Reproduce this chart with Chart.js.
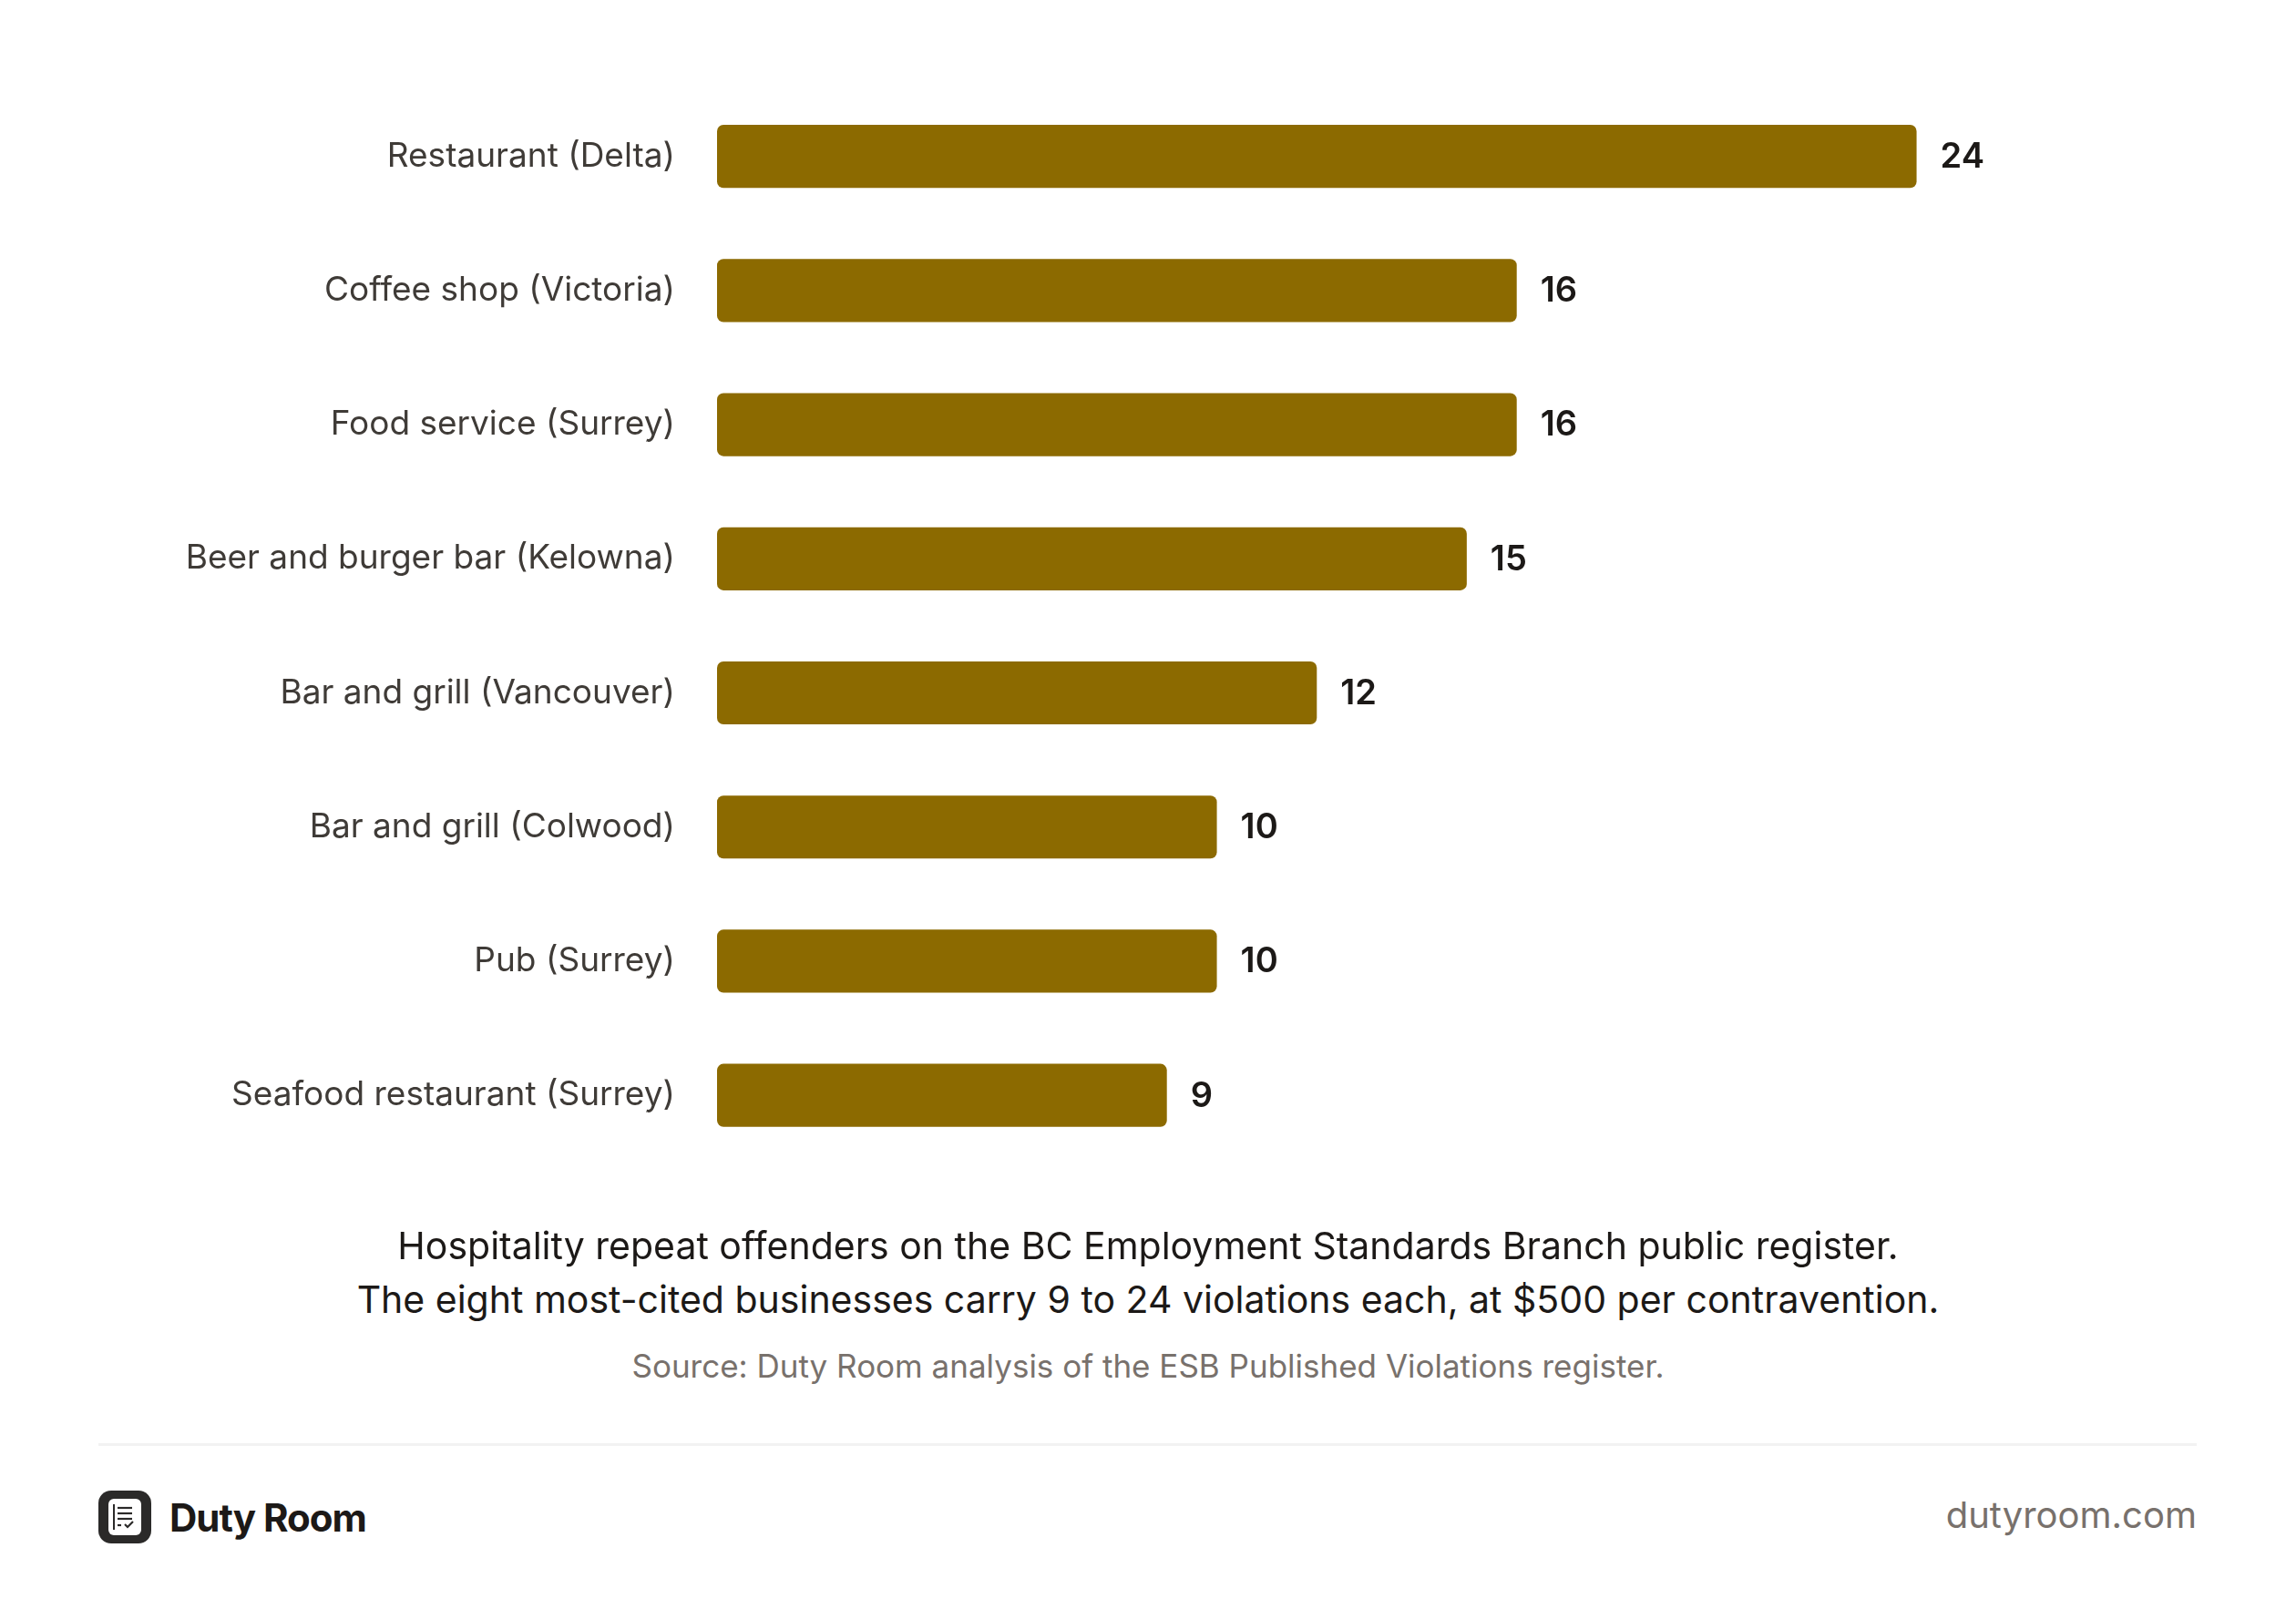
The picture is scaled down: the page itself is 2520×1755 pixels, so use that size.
<!DOCTYPE html>
<html>
<head>
<meta charset="utf-8">
<script src="https://cdn.jsdelivr.net/npm/chart.js@4.4.1/dist/chart.umd.min.js"></script>
<style>
  html, body { margin: 0; padding: 0; background: #ffffff; }
  body { width: 2520px; height: 1755px; position: relative; overflow: hidden; font-family: Inter, "Noto Sans", sans-serif; }
  #chartWrap { position: absolute; left: 0; top: 0; width: 2520px; height: 1344px; }
  .cap { position: absolute; left: 0; width: 2520px; text-align: center; color: #1c1917; font-size: 41px; line-height: 1; }
  .src { position: absolute; left: 0; width: 2520px; text-align: center; color: #78716c; font-size: 35px; line-height: 1; }
  .divider { position: absolute; left: 108px; width: 2303px; top: 1584px; height: 3px; background: #f2f2f2; }
  .brand { position: absolute; left: 108px; top: 1636px; height: 58px; display: flex; align-items: center; }
  .brand span { margin-left: 20px; font-weight: 700; font-size: 42px; color: #1c1917; letter-spacing: -1px; }
  .site { position: absolute; right: 109px; top: 1643px; font-size: 40px; color: #78716c; line-height: 1; }
</style>
</head>
<body>
<div id="chartWrap"><canvas id="c"></canvas></div>
<div class="cap" style="top:1347px">Hospitality repeat offenders on the BC Employment Standards Branch public register.</div>
<div class="cap" style="top:1406px">The eight most-cited businesses carry 9 to 24 violations each, at $500 per contravention.</div>
<div class="src" style="top:1482px">Source: Duty Room analysis of the ESB Published Violations register.</div>
<div class="divider"></div>
<div class="brand">
  <svg width="58" height="58" viewBox="0 0 58 58">
    <rect x="0" y="0" width="58" height="58" rx="14" fill="#2b2a29"/>
    <rect x="11" y="9" width="36" height="40" rx="6" fill="#ffffff"/>
    <line x1="17" y1="15" x2="17" y2="43" stroke="#2b2a29" stroke-width="2"/>
    <line x1="21" y1="19" x2="37" y2="19" stroke="#2b2a29" stroke-width="2.2"/>
    <line x1="21" y1="25" x2="37" y2="25" stroke="#2b2a29" stroke-width="2.2"/>
    <line x1="21" y1="31" x2="37" y2="31" stroke="#2b2a29" stroke-width="2.2"/>
    <line x1="21" y1="38" x2="25" y2="38" stroke="#2b2a29" stroke-width="2.2"/>
    <polyline points="29,37 32,40 38,34" fill="none" stroke="#2b2a29" stroke-width="2.2"/>
  </svg>
  <span>Duty Room</span>
</div>
<div class="site">dutyroom.com</div>
<script>
const categories = [
  "Restaurant (Delta)",
  "Coffee shop (Victoria)",
  "Food service (Surrey)",
  "Beer and burger bar (Kelowna)",
  "Bar and grill (Vancouver)",
  "Bar and grill (Colwood)",
  "Pub (Surrey)",
  "Seafood restaurant (Surrey)"
];
const violations = [24, 16, 16, 15, 12, 10, 10, 9];
const xMin = 0;
const xMax = 28;

const valueLabels = {
  id: 'valueLabels',
  afterDatasetsDraw(chart) {
    const ctx = chart.ctx;
    const meta = chart.getDatasetMeta(0);
    ctx.save();
    ctx.font = '600 38px Inter, "Noto Sans", sans-serif';
    ctx.fillStyle = '#1c1917';
    ctx.textAlign = 'left';
    ctx.textBaseline = 'middle';
    meta.data.forEach((bar, i) => {
      ctx.fillText(String(violations[i]), bar.x + 26, bar.y + 1);
    });
    ctx.restore();
  }
};

Chart.defaults.font.family = 'Inter, "Noto Sans", sans-serif';
new Chart(document.getElementById('c'), {
  type: 'bar',
  data: {
    labels: categories,
    datasets: [{
      data: violations,
      backgroundColor: '#8c6a00',
      borderRadius: 7,
      borderSkipped: false,
      barPercentage: 0.47,
      categoryPercentage: 1.0
    }]
  },
  options: {
    indexAxis: 'y',
    responsive: true,
    maintainAspectRatio: false,
    devicePixelRatio: 1,
    animation: false,
    layout: { padding: { left: 0, right: 197, top: 98, bottom: 26 } },
    plugins: { legend: { display: false }, tooltip: { enabled: false } },
    scales: {
      x: { display: false, min: xMin, max: xMax },
      y: {
        grid: { display: false, drawTicks: false },
        border: { display: false },
        ticks: { color: '#3f3b37', font: { size: 37 }, padding: 46 },
        afterFit(scale) { scale.width = 787; }
      }
    }
  },
  plugins: [valueLabels]
});
</script>
</body>
</html>
